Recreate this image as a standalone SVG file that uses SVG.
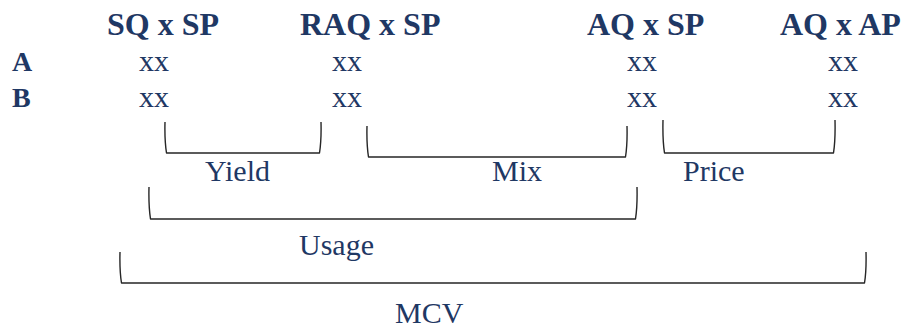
<svg xmlns="http://www.w3.org/2000/svg" width="905" height="332" viewBox="0 0 905 332">
<style>
  text { font-family: "Liberation Serif", "Times New Roman", serif; fill: #1f3864; }
  .hdr { font-size: 32px; font-weight: bold; }
  .row { font-size: 28px; font-weight: bold; }
  .val { font-size: 30px; }
  .lbl { font-size: 30px; }
  .br { fill: none; stroke: #262626; stroke-width: 1.4; stroke-linejoin: round; }
</style>
<rect width="905" height="332" fill="#ffffff"/>
<g id="headers">
  <text class="hdr" x="107" y="35">SQ x SP</text>
  <text class="hdr" x="300" y="35">RAQ x SP</text>
  <text class="hdr" x="587" y="35">AQ x SP</text>
  <text class="hdr" x="780" y="35">AQ x AP</text>
</g>
<g id="rowA">
  <text class="row" x="12" y="71">A</text>
  <text class="val" x="139" y="71">xx</text>
  <text class="val" x="332" y="71">xx</text>
  <text class="val" x="627" y="71">xx</text>
  <text class="val" x="828" y="71">xx</text>
</g>
<g id="rowB">
  <text class="row" x="12" y="107">B</text>
  <text class="val" x="139" y="107">xx</text>
  <text class="val" x="332" y="107">xx</text>
  <text class="val" x="627" y="107">xx</text>
  <text class="val" x="828" y="107">xx</text>
</g>
<g id="connectors">
  <path class="br" d="M165,122 Q164.5,140 166.5,153 L319.5,153 Q321.5,140 321,122"/>
  <path class="br" d="M367,126 Q366.5,144 368.5,157 L625.5,157 Q627.5,144 627,126"/>
  <path class="br" d="M663,120 Q662.5,140 664.5,153 L833.5,153 Q835.5,140 835,120"/>
  <path class="br" d="M149,187 Q148.5,206 150.5,219 L635.5,219 Q637.5,206 637,187"/>
  <path class="br" d="M120,252 Q119.5,271 121.5,283 L864.5,283 Q866.5,271 866,252"/>
</g>
<g id="yield"><text class="lbl" x="205" y="181">Yield</text></g>
<g id="mix"><text class="lbl" x="492" y="181">Mix</text></g>
<g id="price"><text class="lbl" x="683" y="181">Price</text></g>
<g id="usage"><text class="lbl" x="299" y="255">Usage</text></g>
<g id="mcv"><text class="lbl" x="395" y="323">MCV</text></g>
</svg>
